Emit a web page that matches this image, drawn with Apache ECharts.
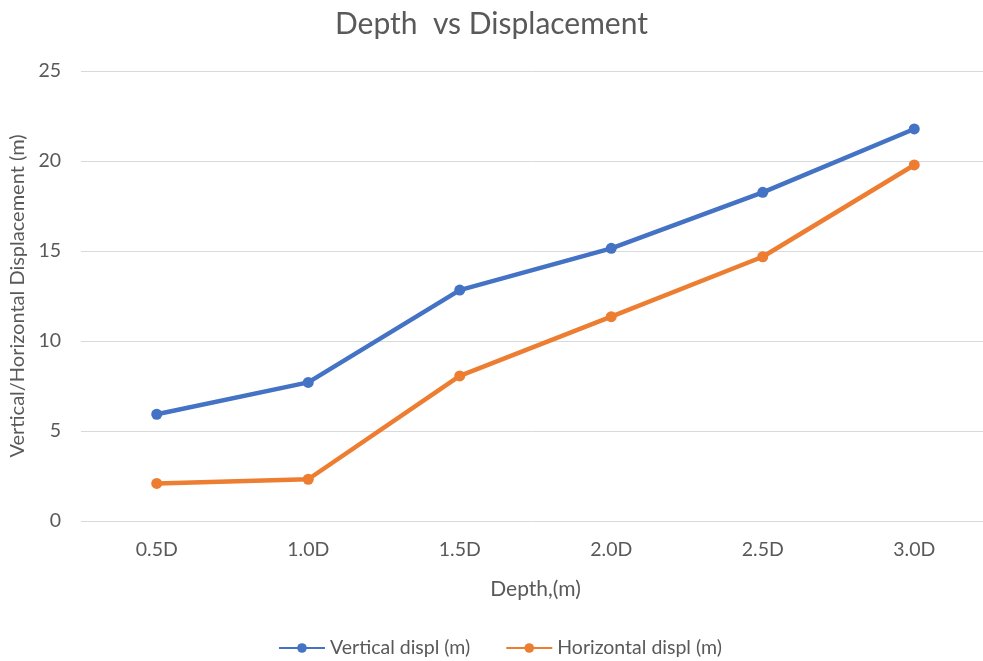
<!DOCTYPE html>
<html>
<head>
<meta charset="utf-8">
<script src="https://cdn.jsdelivr.net/npm/echarts@6/dist/echarts.min.js"></script>
<style>
  html, body { margin: 0; padding: 0; background: #fff; }
  #chart { width: 983px; height: 661px; }
</style>
</head>
<body>
<div id="chart"></div>
<script>
// Depth categories along the pile
const depths = ['0.5D', '1.0D', '1.5D', '2.0D', '2.5D', '3.0D'];
// Displacements (m)
const verticalDispl = [5.93, 7.7, 12.83, 15.15, 18.26, 21.78];
const horizontalDispl = [2.09, 2.32, 8.06, 11.35, 14.68, 19.78];
const yTicks = { min: 0, max: 25, interval: 5 };

const textColor = '#595959';
const font = 'Lato, "Open Sans", sans-serif';

const chart = echarts.init(document.getElementById('chart'), null, { renderer: 'canvas' });
chart.setOption({
  animation: false,
  backgroundColor: '#ffffff',
  title: {
    text: 'Depth  vs Displacement',
    left: 'center',
    top: 4,
    textStyle: { color: textColor, fontSize: 30, fontWeight: 'normal', fontFamily: font }
  },
  legend: {
    top: 633,
    left: 273,
    itemWidth: 46,
    itemHeight: 12,
    itemGap: 35,
    textStyle: { color: textColor, fontSize: 19.5, fontFamily: font },
    data: ['Vertical displ (m)', 'Horizontal displ (m)']
  },
  grid: { left: 81, top: 71, width: 909, bottom: 140, containLabel: false, outerBoundsMode: 'none' },
  xAxis: {
    type: 'category',
    data: depths,
    boundaryGap: true,
    name: 'Depth,(m)',
    nameLocation: 'middle',
    nameGap: 58,
    nameTextStyle: { color: textColor, fontSize: 21, fontFamily: font },
    axisLine: { show: false },
    axisTick: { show: false },
    axisLabel: { color: textColor, fontSize: 19.5, fontFamily: font, margin: 19 }
  },
  yAxis: {
    type: 'value',
    min: yTicks.min,
    max: yTicks.max,
    interval: yTicks.interval,
    name: 'Vertical/Horizontal Displacement (m)',
    nameLocation: 'middle',
    nameGap: 49,
    nameTextStyle: { color: textColor, fontSize: 20, fontFamily: font },
    axisLine: { show: false },
    axisTick: { show: false },
    axisLabel: { color: textColor, fontSize: 19.5, fontFamily: font, margin: 20 },
    splitLine: { lineStyle: { color: '#d9d9d9', width: 1 } }
  },
  series: [
    {
      name: 'Vertical displ (m)',
      type: 'line',
      data: verticalDispl,
      symbol: 'circle',
      symbolSize: 11,
      lineStyle: { color: '#4472C4', width: 4.5 },
      itemStyle: { color: '#4472C4' }
    },
    {
      name: 'Horizontal displ (m)',
      type: 'line',
      data: horizontalDispl,
      symbol: 'circle',
      symbolSize: 11,
      lineStyle: { color: '#ED7D31', width: 4.5 },
      itemStyle: { color: '#ED7D31' }
    }
  ]
});
</script>
</body>
</html>
